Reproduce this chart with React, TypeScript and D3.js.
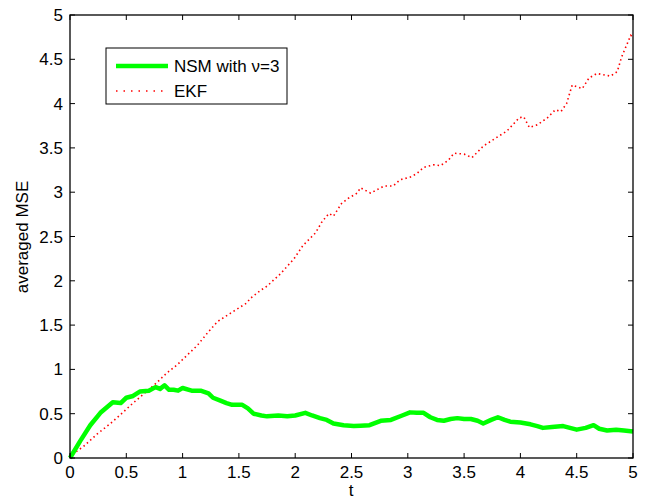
import React from "react";
import * as d3 from "d3";

// NSM with nu=3 (green)
const nsmT = [0, 0.09, 0.18, 0.27, 0.38, 0.45, 0.5, 0.56, 0.62, 0.7, 0.76, 0.8, 0.84, 0.88, 0.92, 0.96, 1.0, 1.08, 1.16, 1.23, 1.27, 1.33, 1.39, 1.44, 1.48, 1.53, 1.58, 1.63, 1.7, 1.75, 1.85, 1.93, 2.0, 2.09, 2.15, 2.22, 2.28, 2.34, 2.43, 2.52, 2.58, 2.66, 2.76, 2.85, 2.95, 3.02, 3.08, 3.14, 3.2, 3.26, 3.32, 3.38, 3.44, 3.5, 3.56, 3.62, 3.67, 3.74, 3.8, 3.86, 3.91, 4.0, 4.09, 4.15, 4.2, 4.28, 4.38, 4.44, 4.5, 4.58, 4.65, 4.7, 4.77, 4.85, 4.92, 5.0];
const nsmV = [0, 0.19, 0.37, 0.51, 0.63, 0.62, 0.68, 0.7, 0.75, 0.76, 0.8, 0.78, 0.82, 0.77, 0.77, 0.76, 0.79, 0.76, 0.76, 0.73, 0.68, 0.65, 0.62, 0.6, 0.6, 0.6, 0.56, 0.5, 0.48, 0.47, 0.48, 0.47, 0.48, 0.51, 0.48, 0.45, 0.43, 0.39, 0.37, 0.36, 0.365, 0.37, 0.42, 0.43, 0.48, 0.515, 0.51, 0.51, 0.46, 0.43, 0.42, 0.44, 0.45, 0.44, 0.44, 0.42, 0.39, 0.43, 0.46, 0.43, 0.41, 0.4, 0.38, 0.36, 0.34, 0.35, 0.36, 0.34, 0.32, 0.34, 0.37, 0.33, 0.31, 0.32, 0.31, 0.3];

// EKF (red dotted)
const ekfT = [0, 0.03, 0.12, 0.24, 0.36, 0.44, 0.56, 0.68, 0.77, 0.86, 0.95, 1.04, 1.13, 1.22, 1.31, 1.42, 1.57, 1.6, 1.69, 1.75, 1.87, 1.99, 2.07, 2.18, 2.24, 2.3, 2.34, 2.41, 2.47, 2.55, 2.58, 2.67, 2.79, 2.87, 2.93, 3.02, 3.08, 3.14, 3.23, 3.29, 3.36, 3.41, 3.5, 3.57, 3.67, 3.78, 3.88, 3.99, 4.03, 4.08, 4.15, 4.24, 4.31, 4.36, 4.41, 4.46, 4.55, 4.61, 4.68, 4.8, 4.86, 4.9, 4.95, 4.98, 5.0];
const ekfV = [0, 0.05, 0.13, 0.27, 0.39, 0.48, 0.62, 0.75, 0.85, 0.96, 1.05, 1.16, 1.27, 1.41, 1.54, 1.63, 1.75, 1.8, 1.89, 1.94, 2.08, 2.25, 2.4, 2.54, 2.67, 2.76, 2.73, 2.87, 2.93, 2.99, 3.05, 2.99, 3.07, 3.07, 3.14, 3.17, 3.21, 3.28, 3.31, 3.3, 3.36, 3.44, 3.43, 3.39, 3.52, 3.61, 3.69, 3.84, 3.85, 3.73, 3.76, 3.84, 3.93, 3.91, 4.0, 4.21, 4.17, 4.29, 4.34, 4.31, 4.36, 4.53, 4.68, 4.77, 4.75];

const xTicks = [0, 0.5, 1, 1.5, 2, 2.5, 3, 3.5, 4, 4.5, 5];
const yTicks = [0, 0.5, 1, 1.5, 2, 2.5, 3, 3.5, 4, 4.5, 5];
const legendLabels = ["NSM with \u03bd=3", "EKF"];

const W = 651;
const H = 501;
const left = 70;
const right = 633;
const top = 15;
const bottom = 458;
const fs = 17;
const font = "'Liberation Sans', Arial, Helvetica, sans-serif";

export default function App() {
  const x = d3.scaleLinear().domain([0, 5]).range([left, right]);
  const y = d3.scaleLinear().domain([0, 5]).range([bottom, top]);

  const line = d3
    .line<[number, number]>()
    .x((d) => x(d[0]))
    .y((d) => y(d[1]));

  const nsm = nsmT.map((t, i) => [t, nsmV[i]] as [number, number]);
  const ekf = ekfT.map((t, i) => [t, ekfV[i]] as [number, number]);
  const tl = 5;

  return (
    <svg
      width={W}
      height={H}
      style={{ position: "absolute", left: 0, top: 0, background: "#fff" }}
      fontFamily={font}
    >
      <rect x={0} y={0} width={W} height={H} fill="#fff" />
      <path d={line(ekf) || ""} fill="none" stroke="#ff0000" strokeWidth={1.6} strokeDasharray="1.5,3" />
      <path d={line(nsm) || ""} fill="none" stroke="#00ff00" strokeWidth={4.5} strokeLinejoin="round" />

      {/* box */}
      <rect x={left} y={top} width={right - left} height={bottom - top} fill="none" stroke="#000" strokeWidth={1.3} />

      {xTicks.map((t) => (
        <g key={"x" + t}>
          <line x1={x(t)} x2={x(t)} y1={bottom} y2={bottom - tl} stroke="#000" />
          <line x1={x(t)} x2={x(t)} y1={top} y2={top + tl} stroke="#000" />
          <text x={x(t)} y={478} fontSize={fs} textAnchor="middle">
            {t}
          </text>
        </g>
      ))}
      {yTicks.map((v) => (
        <g key={"y" + v}>
          <line x1={left} x2={left + tl} y1={y(v)} y2={y(v)} stroke="#000" />
          <line x1={right} x2={right - tl} y1={y(v)} y2={y(v)} stroke="#000" />
          <text x={63} y={y(v) + 6} fontSize={fs} textAnchor="end">
            {v}
          </text>
        </g>
      ))}

      <text x={351} y={496} fontSize={fs} textAnchor="middle">
        t
      </text>
      <text transform="translate(28,237) rotate(-90)" fontSize={fs} textAnchor="middle">
        averaged MSE
      </text>

      {/* legend */}
      <rect x={106} y={48} width={181} height={56} fill="#fff" stroke="#000" strokeWidth={1} />
      <line x1={116} x2={168} y1={66} y2={66} stroke="#00ff00" strokeWidth={4.5} />
      <line x1={116} x2={168} y1={91} y2={91} stroke="#ff0000" strokeWidth={1.6} strokeDasharray="1.5,6" />
      <text x={174} y={72} fontSize={fs}>
        {legendLabels[0]}
      </text>
      <text x={174} y={97} fontSize={fs}>
        {legendLabels[1]}
      </text>
    </svg>
  );
}
